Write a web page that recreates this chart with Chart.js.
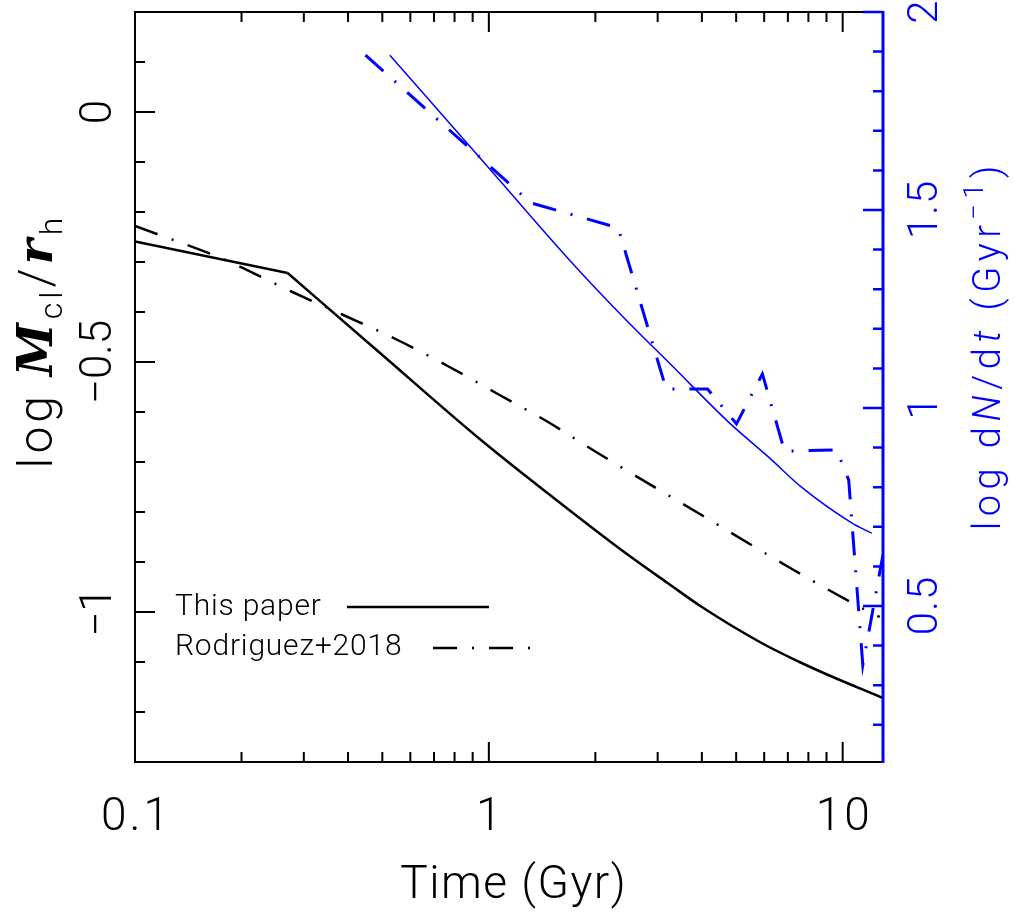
<!DOCTYPE html>
<html>
<head>
<meta charset="utf-8">
<title>log Mcl/rh and log dN/dt vs time</title>
<script src="https://cdn.jsdelivr.net/npm/chart.js@4.4.1/dist/chart.umd.min.js"></script>
<style>
body{margin:0;background:#fff;}
#mycanvas{display:block;}
</style>
</head>
<body>
<canvas id="mycanvas" width="1015" height="917"></canvas>
<script>
// This paper: log Mcl/rh (left axis)
var paperTime = [0.1, 0.27, 0.5, 0.95, 1.47, 2.37, 3.2, 4.0, 5.9, 7.5, 9.1, 13.0];
var paperVal  = [-0.259, -0.322, -0.486, -0.656, -0.763, -0.876, -0.942, -0.99, -1.062, -1.099, -1.126, -1.172];

// Rodriguez+2018 (left axis)
var rodTime = [0.1, 0.18, 0.2785, 0.388, 0.545, 0.765, 1.06, 1.47, 2.01, 3.99, 7.27, 11.32, 12.73];
var rodVal  = [-0.228, -0.296, -0.36, -0.406, -0.454, -0.508, -0.564, -0.62, -0.68, -0.806, -0.916, -0.992, -1.01];

// log dN/dt, smooth curve (right axis)
var fitTime = [0.525, 1.0, 1.689, 2.366, 3.3, 4.75, 6.21, 7.65, 10.6, 12.08];
var fitVal  = [1.891, 1.606, 1.374, 1.235, 1.106, 0.965, 0.874, 0.80, 0.71, 0.684];

// log dN/dt, binned (right axis)
var binTime = [0.448, 1.315, 2.32, 3.17, 4.15, 5.01, 5.93, 6.85, 9.62, 10.4, 11.4, 13.0];
var binVal  = [1.891, 1.518, 1.455, 1.048, 1.048, 0.960, 1.086, 0.891, 0.894, 0.818, 0.351, 0.63];

// ticks
var xMajor = [0.1, 1, 10];
var xLabels = ['0.1', '1', '10'];
var xMinor = [0.2, 0.3, 0.4, 0.5, 0.6, 0.7, 0.8, 0.9, 2, 3, 4, 5, 6, 7, 8, 9];
var yMajor = [0, -0.5, -1];
var yLabels = ['0', '\u22120.5', '\u22121'];
var yMinor = [0.1, -0.1, -0.2, -0.3, -0.4, -0.6, -0.7, -0.8, -0.9, -1.1, -1.2];
var y2Major = [0.5, 1, 1.5, 2];
var y2Labels = ['0.5', '1', '1.5', '2'];
var y2Minor = [0.2, 0.3, 0.4, 0.6, 0.7, 0.8, 0.9, 1.1, 1.2, 1.3, 1.4, 1.6, 1.7, 1.8, 1.9];

var BLUE = '#0000ff';
var SANS = 'Roboto, "DejaVu Sans", sans-serif';
var SERIF = '"DejaVu Serif", serif';
var DASHDOT = [24, 15, 2, 15];

function pts(xs, ys){
	var out = [];
	for(var i in xs){
		out.push({x: xs[i], y: ys[i]});
	}
	return out;
}

// text made of several pieces, rotated about its centre
function richText(c, parts, cx, cy, rot, color, spacing, off){
	c.save();
	c.translate(cx, cy);
	c.rotate(rot);
	c.fillStyle = color;
	c.textBaseline = 'alphabetic';
	c.textAlign = 'left';
	c.letterSpacing = spacing + 'px';
	var w = 0;
	parts.forEach(function(p){ c.font = p.f; w += c.measureText(p.t).width; });
	w -= spacing;
	var x = -w/2;
	parts.forEach(function(p){
		c.font = p.f;
		c.fillText(p.t, x, off + (p.dy || 0));
		x += c.measureText(p.t).width;
	});
	c.restore();
}

var framePlugin = {
	id: 'frame',
	afterDraw: function(chart){
		var c = chart.ctx;
		var a = chart.chartArea;
		var sx = chart.scales.x, sy = chart.scales.y, sy2 = chart.scales.y2;
		c.save();
		c.lineCap = 'butt';

		// black frame (left, bottom, top)
		c.strokeStyle = '#000';
		c.lineWidth = 2;
		c.beginPath();
		c.moveTo(a.right, a.top); c.lineTo(a.left, a.top);
		c.lineTo(a.left, a.bottom); c.lineTo(a.right, a.bottom);
		c.stroke();

		// x ticks, bottom and top
		c.beginPath();
		xMajor.forEach(function(v){
			var px = sx.getPixelForValue(v);
			c.moveTo(px, a.bottom); c.lineTo(px, a.bottom - 20);
			c.moveTo(px, a.top); c.lineTo(px, a.top + 20);
		});
		xMinor.forEach(function(v){
			var px = sx.getPixelForValue(v);
			c.moveTo(px, a.bottom); c.lineTo(px, a.bottom - 10);
			c.moveTo(px, a.top); c.lineTo(px, a.top + 10);
		});
		// left ticks
		yMajor.forEach(function(v){
			var py = sy.getPixelForValue(v);
			c.moveTo(a.left, py); c.lineTo(a.left + 20, py);
		});
		yMinor.forEach(function(v){
			var py = sy.getPixelForValue(v);
			c.moveTo(a.left, py); c.lineTo(a.left + 10, py);
		});
		c.stroke();

		// blue right axis
		c.strokeStyle = BLUE;
		c.lineWidth = 3;
		c.beginPath();
		c.moveTo(a.right, a.top - 1); c.lineTo(a.right, a.bottom + 1);
		c.stroke();
		c.lineWidth = 2.5;
		c.beginPath();
		y2Major.forEach(function(v){
			var py = sy2.getPixelForValue(v);
			c.moveTo(a.right, py); c.lineTo(a.right - 20, py);
		});
		y2Minor.forEach(function(v){
			var py = sy2.getPixelForValue(v);
			c.moveTo(a.right, py); c.lineTo(a.right - 10, py);
		});
		c.stroke();

		// tick labels
		xMajor.forEach(function(v, i){
			richText(c, [{t: xLabels[i], f: '300 46px ' + SANS}], sx.getPixelForValue(v), 830, 0, '#000', 3, 0);
		});
		richText(c, [{t: 'Time (Gyr)', f: '300 46px ' + SANS}], 513, 898, 0, '#000', 1.5, 0);

		yMajor.forEach(function(v, i){
			richText(c, [{t: yLabels[i], f: '300 44px ' + SANS}], 95, sy.getPixelForValue(v), -Math.PI/2, '#000', 0, 16);
		});
		y2Major.forEach(function(v, i){
			richText(c, [{t: y2Labels[i], f: '300 42px ' + SANS}], 922, sy2.getPixelForValue(v), -Math.PI/2, BLUE, 1, 15);
		});

		// axis titles
		richText(c, [
			{t: 'log ', f: '300 48px ' + SANS},
			{t: 'M', f: 'italic bold 48px ' + SERIF},
			{t: 'cl', f: '300 32px ' + SANS, dy: 10},
			{t: '/', f: '300 48px ' + SANS},
			{t: 'r', f: 'italic bold 48px ' + SERIF},
			{t: 'h', f: '300 32px ' + SANS, dy: 10}
		], 35, 343, -Math.PI/2, '#000', 4, 17);

		richText(c, [
			{t: 'log d', f: '300 38px ' + SANS},
			{t: 'N', f: 'italic 300 38px ' + SANS},
			{t: '/d', f: '300 38px ' + SANS},
			{t: 't', f: 'italic 300 38px ' + SANS},
			{t: ' (Gyr', f: '300 38px ' + SANS},
			{t: '\u22121', f: '300 27px ' + SANS, dy: -17},
			{t: ')', f: '300 38px ' + SANS}
		], 986, 348, -Math.PI/2, BLUE, 5.5, 14);

		// legend
		var ds = chart.data.datasets;
		c.fillStyle = '#000';
		c.font = '300 30px ' + SANS;
		c.textAlign = 'left';
		c.letterSpacing = '0.8px';
		c.fillText(ds[0].label, 175, 615);
		c.fillText(ds[2].label, 175, 655);
		c.letterSpacing = '0px';
		c.strokeStyle = '#000';
		c.lineWidth = 2.5;
		c.setLineDash([]);
		c.beginPath(); c.moveTo(347, 607); c.lineTo(489, 607); c.stroke();
		c.setLineDash(DASHDOT);
		c.beginPath(); c.moveTo(433, 648); c.lineTo(537, 648); c.stroke();
		c.restore();
	}
};

var ctx = document.getElementById('mycanvas');
var chart = new Chart(ctx, {
	type: 'line',
	data: {
		datasets: [
			// straight early part and smooth later part of the same curve
			{label: 'This paper', data: pts(paperTime.slice(0, 2), paperVal.slice(0, 2)), yAxisID: 'y', borderColor: '#000', borderWidth: 2.5},
			{label: 'This paper (cont.)', data: pts(paperTime.slice(1), paperVal.slice(1)), yAxisID: 'y', borderColor: '#000', borderWidth: 2.5, cubicInterpolationMode: 'monotone'},
			{label: 'Rodriguez+2018', data: pts(rodTime, rodVal), yAxisID: 'y', borderColor: '#000', borderWidth: 2.5, borderDash: DASHDOT, cubicInterpolationMode: 'monotone'},
			{label: 'dN/dt fit', data: pts(fitTime, fitVal), yAxisID: 'y2', borderColor: BLUE, borderWidth: 1.5, cubicInterpolationMode: 'monotone'},
			{label: 'dN/dt', data: pts(binTime, binVal), yAxisID: 'y2', borderColor: BLUE, borderWidth: 3, borderDash: DASHDOT}
		]
	},
	options: {
		responsive: false,
		animation: false,
		layout: {padding: {left: 135, top: 12, right: 132, bottom: 155}},
		elements: {point: {radius: 0}, line: {tension: 0, fill: false}},
		plugins: {legend: {display: false}, tooltip: {enabled: false}},
		scales: {
			x: {type: 'logarithmic', min: 0.1, max: 13, display: false},
			y: {type: 'linear', min: -1.3, max: 0.2, display: false},
			y2: {type: 'linear', min: 0.106, max: 2, display: false}
		}
	},
	plugins: [framePlugin]
});
</script>
</body>
</html>
